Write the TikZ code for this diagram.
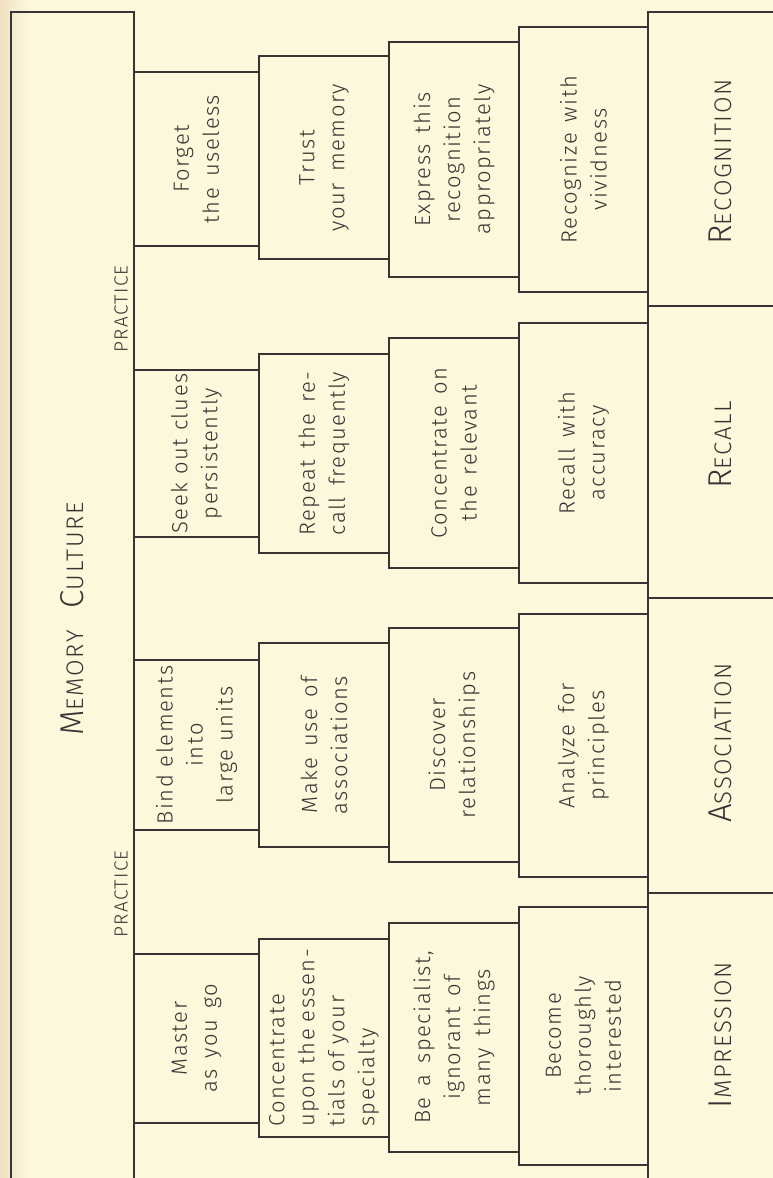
\documentclass[tikz,border=0pt]{standalone}
\usepackage{fontspec}
\setmainfont{Fira Sans Light}[LetterSpace=7]
\definecolor{paper}{HTML}{FBF8DB}
\definecolor{edge}{HTML}{F1E0C2}
\definecolor{ink}{HTML}{363434}
\newcommand\myscap[2]{{\fontsize{33}{33}\selectfont #1}{\fontsize{24}{24}\selectfont #2}}
\newcommand\widesp{\spaceskip=11pt plus 4pt minus 2pt\relax}
\newcommand\narsp{\spaceskip=8pt plus 2pt minus 2pt\relax}
\newcommand\nnarsp{\spaceskip=7pt plus 2pt minus 2pt\relax}
\tikzset{
  stepbox/.style={draw=ink, line width=1.5pt, rotate=90, inner sep=2pt, align=center,
    font=\fontsize{22}{30}\selectfont\widesp, text=ink},
  tight/.style={inner xsep=0pt, font=\fontsize{22}{30}\selectfont\narsp},
  tighter/.style={inner xsep=0pt, font=\fontsize{22}{30}\selectfont\nnarsp},
  lbl/.style={rotate=90, text=ink, inner sep=0pt},
  frame/.style={draw=ink, line width=1.5pt},
}
\begin{document}
\begin{tikzpicture}[x=1pt,y=-1pt]
\useasboundingbox (0,0) rectangle (773,1178);
\clip (0,0) rectangle (773,1178);
\fill[paper] (0,0) rectangle (773,1178);
\shade[left color=edge,right color=paper] (0,0) rectangle (28,1178);
% Memory culture frame
\draw[frame] (11,1190) -- (11,12) -- (134,12) -- (134,1190);
% base boxes
\draw[frame] (790,12) -- (648,12) -- (648,1190);
\draw[frame] (648,306) -- (790,306);
\draw[frame] (648,598) -- (790,598);
\draw[frame] (648,893) -- (790,893);

\node[lbl] (mc) at (72,619) {\myscap{M}{EMORY}\hspace{22pt}\myscap{C}{ULTURE}};
\node[lbl, font=\fontsize{19}{19}\selectfont] (p1) at (121,309) {PRACTICE};
\node[lbl, font=\fontsize{19}{19}\selectfont] (p2) at (121,894) {PRACTICE};

\node[lbl] (recog) at (720,162) {\myscap{R}{ECOGNITION}};
\node[lbl] (recall) at (720,445) {\myscap{R}{ECALL}};
\node[lbl] (assoc) at (720,743) {\myscap{A}{SSOCIATION}};
\node[lbl] (impr) at (720,1035) {\myscap{I}{MPRESSION}};

% Recognition
\node[stepbox, minimum width=174pt, minimum height=125pt] (r1) at (196.5,159) {Forget\\the useless};
\node[stepbox, minimum width=203pt, minimum height=130pt] (r2) at (324,157.5) {Trust\\your memory};
\node[stepbox, minimum width=235pt, minimum height=130pt] (r3) at (454,159.5) {Express this\\recognition\\appropriately};
\node[stepbox, minimum width=265pt, minimum height=129pt] (r4) at (583.5,159.5) {Recognize with\\vividness};
% Recall
\node[stepbox, tight, minimum width=167pt, minimum height=125pt] (c1) at (196.5,453.5) {Seek out clues\\persistently};
\node[stepbox, minimum width=199pt, minimum height=130pt, align=left] (c2) at (324,453.5) {Repeat the re-\\call frequently};
\node[stepbox, minimum width=230pt, minimum height=130pt] (c3) at (454,453) {Concentrate on\\the relevant};
\node[stepbox, minimum width=260pt, minimum height=129pt] (c4) at (583.5,453) {Recall with\\accuracy};
% Association
\node[stepbox, tight, minimum width=170pt, minimum height=125pt] (a1) at (196.5,745) {Bind elements\\into\\large units};
\node[stepbox, minimum width=204pt, minimum height=130pt] (a2) at (324,745) {Make use of\\associations};
\node[stepbox, minimum width=234pt, minimum height=130pt] (a3) at (454,745) {Discover\\relationships};
\node[stepbox, minimum width=263pt, minimum height=129pt] (a4) at (583.5,745.5) {Analyze for\\principles};
% Impression
\node[stepbox, minimum width=169pt, minimum height=125pt] (i1) at (196.5,1038.5) {Master\\as you go};
\node[stepbox, tighter, minimum width=198pt, minimum height=130pt, align=left] (i2) at (324,1038) {Concentrate\\upon the essen-\\tials of your\\specialty};
\node[stepbox, minimum width=229pt, minimum height=130pt] (i3) at (454,1037.5) {Be a specialist,\\ignorant of\\many things};
\node[stepbox, minimum width=258pt, minimum height=129pt] (i4) at (583.5,1036) {Become\\thoroughly\\interested};
\end{tikzpicture}
\end{document}
